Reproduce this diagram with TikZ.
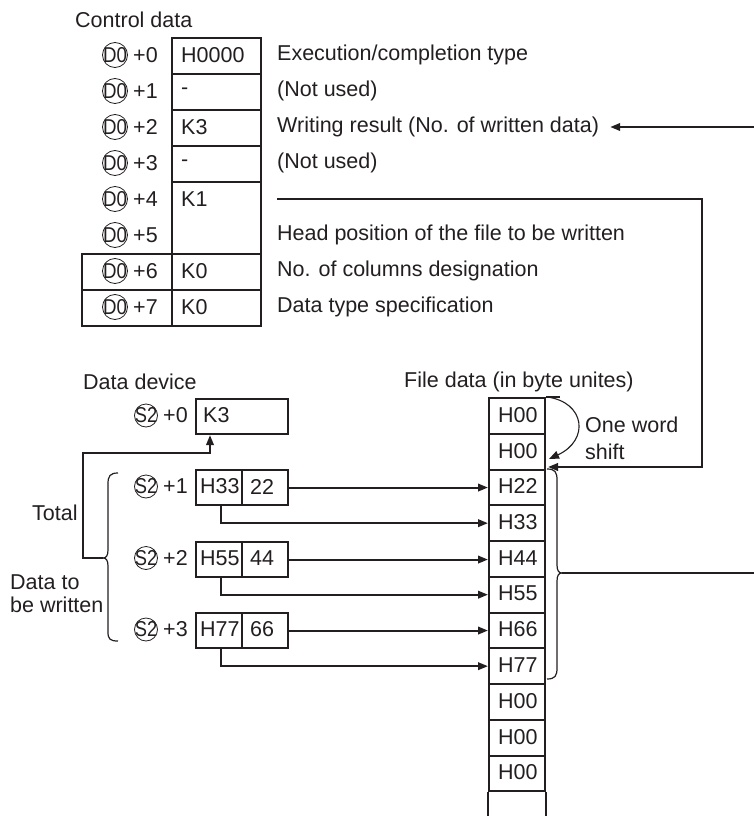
\documentclass[tikz,border=0pt]{standalone}
\usepackage{fontspec}
\setmainfont{Liberation Sans}
\usetikzlibrary{arrows.meta}
\definecolor{ink}{HTML}{231F20}
\begin{document}
\begin{tikzpicture}[x=1pt,y=-1pt,
  txt/.style={font=\fontsize{21.5}{25}\selectfont, text=ink, inner sep=0pt, anchor=west},
  cellbox/.style={draw=ink, line width=2.1pt, inner sep=0pt, anchor=north west},
  dcirc/.style={circle, draw=ink, line width=0.8pt, inner sep=0pt, minimum size=25pt,
     font=\fontsize{21.5}{24}\selectfont, text=ink},
  scirc/.style={circle, draw=ink, line width=0.8pt, inner sep=0pt, minimum size=23pt,
     font=\fontsize{21.5}{24}\selectfont, text=ink},
  conn/.style={draw=ink, line width=2.1pt},
  arr/.style={conn, -{Triangle[length=10pt,width=7.5pt]}},
  bracepath/.style={draw=ink, line width=1.2pt}
]
\useasboundingbox (0,0) rectangle (754,816);

% ---------- Control data ----------
\node[txt] (ctitle) at (75,20) {Control data};
\foreach \k in {0,...,7} {
  \node[dcirc] (d\k) at (115,55+36*\k) {\makebox[0pt]{\scalebox{0.87}[1]{D0}}};
  \node[txt] (p\k) at (133,55+36*\k) {+\k};
}
\foreach \k/\v in {0/H0000,1/-,2/K3,3/-} {
  \node[cellbox, minimum width=89pt, minimum height=36pt] (c\k) at (171,37+36*\k) {};
  \node[txt] (cv\k) at (181,55+36*\k) {\v};
}
\node[cellbox, minimum width=89pt, minimum height=72pt] (c4) at (171,181) {};
\node[txt] (cv4) at (181,199) {K1};
\foreach \k in {6,7} {
  \node[cellbox, minimum width=90pt, minimum height=36pt] (l\k) at (81,37+36*\k) {};
  \node[cellbox, minimum width=89pt, minimum height=36pt] (c\k) at (171,37+36*\k) {};
  \node[txt] (cv\k) at (181,55+36*\k) {K0};
}
\node[txt] (e0) at (277,55) {Execution/completion type};
\node[txt] (e1) at (277,91) {(Not used)};
\node[txt] (e2) at (277,127) {Writing result (No. of written data)};
\node[txt] (e3) at (277,163) {(Not used)};
\node[txt] (e5) at (277,235) {Head position of the file to be written};
\node[txt] (e6) at (277,271) {No. of columns designation};
\node[txt] (e7) at (277,307) {Data type specification};

% ---------- Data device ----------
\node[txt] (dtitle) at (83,382) {Data device};
\node[txt] (ftitle) at (404,382) {File data (in byte unites)};

\foreach \k/\y in {0/415.5,1/486.5,2/558,3/629.5} {
  \node[scirc] (s\k) at (146,\y) {\makebox[0pt]{\scalebox{0.85}[1]{S2}}};
  \node[txt] (q\k) at (163,\y) {+\k};
}
\node[cellbox, minimum width=92pt, minimum height=35pt] (b0) at (195,398) {};
\node[txt] (bv0) at (203,415.5) {K3};
\foreach \k/\t/\hi/\lo in {1/469/H33/22,2/541/H55/44,3/612/H77/66} {
  \node[cellbox, minimum width=46pt, minimum height=35pt] (h\k) at (195,\t) {};
  \node[cellbox, minimum width=46pt, minimum height=35pt] (g\k) at (241,\t) {};
  \node[txt] (hv\k) at (200,\t+17.5) {\hi};
  \node[txt] (gv\k) at (250,\t+17.5) {\lo};
}

% ---------- File data column ----------
\foreach \k/\v in {0/H00,1/H00,2/H22,3/H33,4/H44,5/H55,6/H66,7/H77,8/H00,9/H00,10/H00} {
  \node[cellbox, minimum width=56pt, minimum height=35.75pt] (f\k) at (488,397+35.75*\k) {};
  \node[txt] (fv\k) at (498,397+35.75*\k+17.9) {\v};
}
\draw[conn] (f10.south west) -- (f10.south west |- 0,816);
\draw[conn] (f10.south east) -- (f10.south east |- 0,816);
\draw[conn] (f0.north east) -- ++(14,0);

% ---------- connectors ----------
\draw[arr] (g1.east) -- (g1.east -| f2.west);
\draw[arr] (g2.east) -- (g2.east -| f4.west);
\draw[arr] (g3.east) -- (g3.east -| f6.west);
\draw[arr] ([xshift=2pt]h1.south) |- (f3.west);
\draw[arr] ([xshift=2pt]h2.south) |- (f5.west);
\draw[arr] ([xshift=2pt]h3.south) |- (f7.west);

% left brace and Total
\coordinate (lbt) at (103,558);
\draw[bracepath] (118,473) .. controls (110,473) and (108,476) .. (108,484) -- (108,550)
  .. controls (108,556) and (106,558) .. (lbt)
  .. controls (106,558) and (108,560) .. (108,566) -- (108,632)
  .. controls (108,639) and (110,641) .. (118,641);
\draw[arr] (lbt) -- (83,558) -- (83,453) -| ([xshift=15pt]b0.south west);
\node[txt] (total) at (32,513) {Total};
\node[txt] (dto) at (10,582) {Data to};
\node[txt] (bew) at (10,605) {be written};

% right brace
\coordinate (rbt) at (562,573);
\coordinate (rend) at (754,573);
\draw[bracepath] (547,469) .. controls (555,469) and (557,472) .. (557,480) -- (557,565)
  .. controls (557,571) and (559,573) .. (rbt)
  .. controls (559,573) and (557,575) .. (557,581) -- (557,668)
  .. controls (557,676) and (555,679) .. (547,679);
\draw[conn] (rbt) -- (rend);

% writing result arrow
\coordinate (wrs) at (754,127);
\draw[arr] (wrs) -- ([xshift=11pt]e2.east);

% head position line
\coordinate (hp) at (277,199);
\coordinate (hpc) at (702,199);
\coordinate (hpt) at (548,467);
\draw[arr] (hp) -- (hpc) |- (hpt);

% one word shift
\draw[draw=ink, line width=1.1pt, -{Triangle[length=10pt,width=8pt]}]
  ([xshift=1pt]f0.north east) .. controls (585,402) and (590,440) .. (549,459);
\node[txt] (ow) at (585,425) {One word};
\node[txt] (sh) at (585,452) {shift};
\end{tikzpicture}
\end{document}
